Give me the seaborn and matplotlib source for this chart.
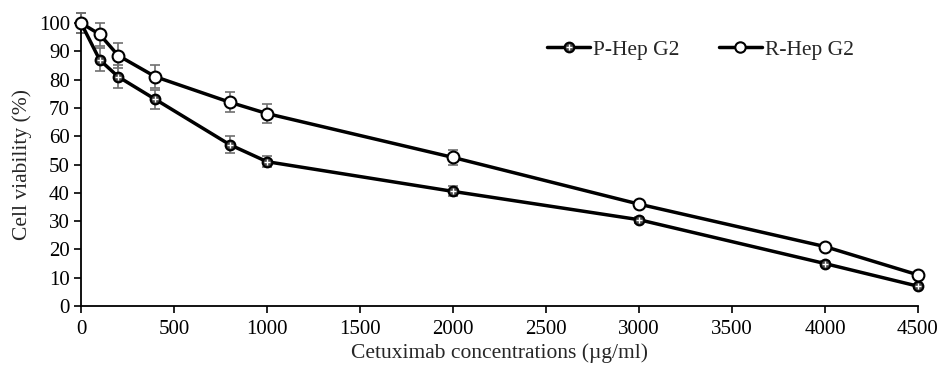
import numpy as np
import pandas as pd
import matplotlib
matplotlib.use("Agg")
import matplotlib.pyplot as plt
import seaborn as sns
from matplotlib.lines import Line2D

conc = [0, 100, 200, 400, 800, 1000, 2000, 3000, 4000, 4500]
p_hep = [100, 87, 81, 73, 57, 51, 40.5, 30.5, 15, 7]
p_err = [3.5, 4, 4, 3.5, 3, 2, 1.8, 1, 0.8, 0.8]
r_hep = [100, 96, 88.5, 81, 72, 68, 52.5, 36, 21, 11]
r_err = [3.5, 4, 4.5, 4, 3.5, 3.4, 2.5, 1, 0.8, 0.8]
xticks = [0, 500, 1000, 1500, 2000, 2500, 3000, 3500, 4000, 4500]
yticks = [0, 10, 20, 30, 40, 50, 60, 70, 80, 90, 100]

sns.set_style("ticks")
plt.rcParams['font.family'] = ['Liberation Serif', 'DejaVu Serif']

fig = plt.figure(figsize=(9.39, 3.65), dpi=100)
ax = fig.add_axes([0.0863, 0.1616, 0.8913, 0.7754])

df = pd.DataFrame({
    'conc': conc * 2,
    'viab': p_hep + r_hep,
    'line': ['P-Hep G2'] * len(conc) + ['R-Hep G2'] * len(conc),
})

# error bars (gray, behind)
ax.errorbar(conc, p_hep, yerr=p_err, fmt='none', ecolor='#707070',
            elinewidth=1.2, capsize=3.6, capthick=1.2, zorder=1, clip_on=False)
ax.errorbar(conc, r_hep, yerr=r_err, fmt='none', ecolor='#707070',
            elinewidth=1.2, capsize=3.6, capthick=1.2, zorder=1, clip_on=False)

sns.lineplot(data=df[df.line == 'P-Hep G2'], x='conc', y='viab', ax=ax,
             color='black', linewidth=2.5, marker='o', markersize=7,
             markerfacecolor='#444444', markeredgecolor='black', markeredgewidth=1.5,
             zorder=3, clip_on=False, legend=False)
ax.plot(conc, p_hep, linestyle='none', marker='+', markersize=4.5,
        markeredgecolor='white', markeredgewidth=1.0, zorder=4, clip_on=False)
sns.lineplot(data=df[df.line == 'R-Hep G2'], x='conc', y='viab', ax=ax,
             color='black', linewidth=2.5, marker='o', markersize=8.5,
             markerfacecolor='white', markeredgecolor='black', markeredgewidth=1.5,
             zorder=3, clip_on=False, legend=False)

ax.set_xlim(0, 4500)
ax.set_ylim(0, 100)
ax.set_xticks(xticks)
ax.set_yticks(yticks)
ax.tick_params(axis='both', direction='out', length=5, width=1.2, labelsize=15,
               colors='black')
ax.tick_params(axis='x', pad=5)
ax.tick_params(axis='y', pad=3)
for s in ['left', 'bottom']:
    ax.spines[s].set_linewidth(1.3)
    ax.spines[s].set_color('black')
sns.despine(ax=ax)

ax.set_xlabel('Cetuximab concentrations (µg/ml)', fontsize=15.5, labelpad=3)
ax.set_ylabel('Cell viability (%)', fontsize=15.5, labelpad=5)

h1 = (Line2D([], [], color='black', lw=2.5, marker='o', markersize=7,
             markerfacecolor='#444444', markeredgecolor='black', markeredgewidth=1.5),
      Line2D([], [], linestyle='none', marker='+', markersize=4.5,
             markeredgecolor='white', markeredgewidth=1.0))
h2 = Line2D([], [], color='black', lw=2.5, marker='o', markersize=7.5,
            markerfacecolor='white', markeredgecolor='black', markeredgewidth=1.5)
ax.legend([h1, h2], ['P-Hep G2', 'R-Hep G2'], ncol=2, frameon=False,
          loc='center left', bbox_to_anchor=(0.557, 0.905), fontsize=15.5,
          borderpad=0, borderaxespad=0,
          handlelength=2.0, handletextpad=0.15, columnspacing=1.8)

fig.savefig('out.png', dpi=100)
